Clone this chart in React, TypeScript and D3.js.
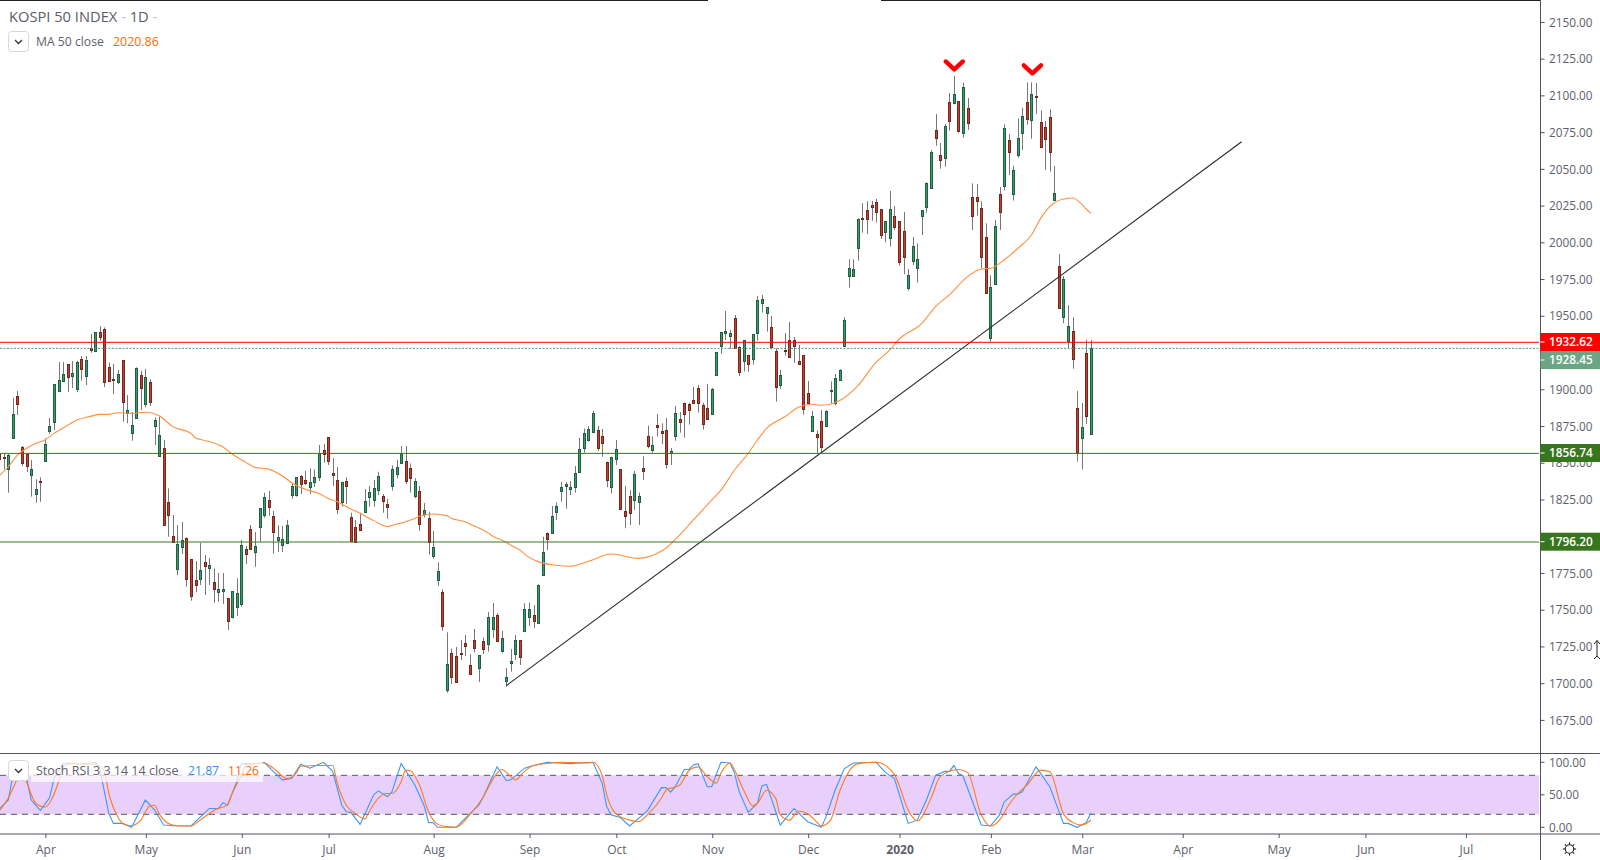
import React from "react";
import * as d3 from "d3";

const closes = [1852.7,1853.3,1855.4,1883.4,1890.7,1850.4,1848.3,1845.8,1832.2,1837,1862.9,1875.2,1903.9,1906.6,1910.7,1909.1,1911.4,1918.9,1914.1,1920.3,
1927.6,1939.4,1936.5,1905.7,1906.4,1906.9,1910.7,1892,1886.1,1875.9,1914.8,1901.6,1908.7,1892,1879.3,1869,1808,1814.9,1796.4,1794.6,
1797.3,1771.1,1759.5,1767,1776.8,1780,1780.3,1764.3,1763.9,1763.9,1742.5,1762.5,1761.1,1793.9,1788.2,1791.2,1793.2,1819.2,1826.7,1820.3,
1803.3,1799.4,1798,1807.6,1834.2,1840.4,1836,1836.7,1837,1840.4,1856.8,1856.1,1851.8,1842.2,1819,1837,1834.7,1797.1,1796,1804.2,
1824,1830.1,1832.9,1841,1824.4,1820.3,1845.8,1847.2,1856.8,1838.1,1840.1,1837.6,1808.7,1817.8,1796,1792.6,1776.2,1739,1712.6,1704.2,
1700.8,1719.9,1725.4,1706.3,1724,1718.8,1723.3,1744.7,1744.7,1728.8,1730.4,1703.8,1714.7,1729,1717.9,1750.2,1750.2,1742.5,1766.6,1789.1,
1798.5,1813.7,1820.5,1833.6,1835.8,1833.6,1843.1,1859.5,1870.5,1873.2,1884.1,1860.7,1864.1,1838.8,1854.1,1859.5,1819,1814.2,1816.3,1842.5,
1827.4,1844.9,1862,1862.3,1875,1870.9,1849.7,1858.2,1884.1,1878.4,1883.4,1886.2,1890.9,1890.9,1877,1880,1900.5,1925.8,1939.5,1940.1,
1938.8,1928.5,1912.6,1934,1917.6,1938,1961.3,1962,1956.5,1929.2,1902.3,1910,1926.9,1922.8,1929.9,1918,1886.8,1890.9,1882.1,1867.7,
1861.3,1885.5,1900,1908,1913.5,1947.6,1983.1,1982.4,2016.6,2017.1,2017.1,2025.3,2021.4,2006.2,2015.3,2023.5,2011.6,1987.7,1991.1,1978.4,
1998.2,1989.3,2022.8,2041.2,2062.4,2072.4,2057.4,2080.2,2083.8,2102,2077.2,2106.8,2082.7,2019.1,2029.4,1991.1,1966.1,1970.2,2011.8,2021.9,
2078.8,2062.9,2050.1,2072,2087,2084.9,2102,2100.4,2065.8,2071.3,2062.4,2034.4,1955.8,1975.6,1943.5,1921,1857.2,1874.5,1882.5,1928.45];
const opens = [1856.3,1854.2,1845.8,1867.5,1895.7,1860.9,1856.3,1842.2,1829.2,1837.9,1851.7,1872.2,1878.4,1899.6,1906.4,1917.6,1909.8,1900.9,1921,1909.8,
1928.5,1926.9,1939.4,1941.5,1915.5,1907.8,1905.7,1920.3,1884.5,1870.9,1880.7,1910,1890.5,1905.3,1875.7,1855.2,1860.2,1823.3,1800,1777.5,
1793,1798.7,1784.3,1770,1771.1,1782.3,1778.7,1768.6,1762.3,1762.9,1757.7,1744.7,1752,1754,1791.2,1804.8,1789.6,1806.7,1814.9,1824.7,
1813.7,1797.8,1794.4,1795.7,1828.5,1828.5,1841.1,1838.3,1833.8,1837.4,1840.8,1858.8,1867.7,1843.1,1838.3,1823.8,1837.6,1813,1806.2,1808.3,
1817,1827.2,1825.1,1832,1827.4,1821.9,1834.7,1842.4,1850.4,1851.3,1846.5,1827.9,1830.8,1815.6,1812.4,1786.9,1770.5,1761.8,1695.1,1720.1,
1718.1,1720.4,1727,1712.4,1729,1710.4,1728.3,1726.8,1737,1746.1,1722,1701.5,1713.8,1719.7,1729,1735.6,1745.2,1746.1,1741.1,1773.9,
1802.1,1802.6,1816.9,1831.3,1834.7,1832.7,1834,1844.3,1860.7,1866.1,1871.6,1872.5,1868.4,1850.6,1833.6,1853.2,1845.9,1817.2,1827.4,1825.1,
1823.8,1846.5,1868.4,1859.3,1875.9,1871.8,1872.5,1856.8,1868.9,1880,1890.9,1890.3,1893,1901.2,1889.6,1887.5,1883.4,1910,1929.9,1938.8,
1937.2,1949,1929.2,1919.6,1923.7,1921.5,1938.8,1959.3,1952.4,1942.9,1926.5,1903.7,1927.4,1934,1934,1919.6,1923.7,1897.8,1872.3,1869.8,
1878.7,1875.2,1899.6,1891,1906.9,1930.3,1978.2,1978.2,1997.3,2017.5,2022.8,2026.2,2028.2,2023.5,2008.2,2004.1,2018.7,2015.3,2008.4,1969.9,
1988.4,1983.6,2019.1,2025.3,2038.3,2077.4,2060.3,2058.8,2096.6,2096.3,2097.2,2075.8,2092.5,2031.7,2031.7,2024.1,2004.3,1935.3,1972.2,2033.7,
2039.2,2070.6,2034.2,2060.8,2075.8,2096.5,2084.3,2100.9,2082.9,2079.5,2086.3,2029.6,1984.5,1950.1,1933.7,1940.1,1887.5,1867.5,1925.1,1870.2];
const highs = [1856.3,1856.3,1856.3,1894.8,1899.3,1861.8,1856.8,1852.2,1839,1840.4,1867,1880.9,1903.9,1919.1,1919.1,1917.6,1919.8,1920,1923.2,1923.2,
1938.3,1939.4,1943.7,1942.8,1918.7,1917.8,1913.7,1920.3,1896.6,1885,1915.5,1913.2,1914.4,1907.3,1881.3,1881.8,1865.9,1832.8,1814.6,1807.8,
1809.9,1799.4,1784.3,1783.2,1795.7,1787.3,1785.3,1778.2,1775,1775,1757.7,1762.5,1771.4,1797.6,1793.5,1807.8,1803,1819.2,1829.9,1831,
1817.4,1807.6,1807.1,1811.2,1836.3,1840.4,1842,1844.9,1846.5,1845.8,1862.5,1863.1,1867.7,1853.4,1847.4,1837.4,1840.4,1816.2,1811.2,1816.2,
1832.4,1834.5,1838.6,1844.2,1829,1825.6,1848.6,1852.2,1861.8,1861.8,1849.9,1839.7,1834.5,1822.8,1816.9,1803.7,1782.3,1763.9,1734.5,1723.3,
1724.5,1729.3,1732.7,1719.5,1736.8,1718.8,1731,1748.4,1754.5,1747.5,1735.4,1710.1,1723.1,1732.7,1729,1754.3,1754.8,1753.2,1767.3,1799.8,
1802.8,1820.8,1823.3,1837.2,1837.2,1837.9,1848.1,1867.3,1873.7,1875.5,1885.7,1875.5,1873.4,1851.1,1854.5,1865.9,1845.9,1834.5,1831.7,1844.7,
1829.9,1854.7,1875.7,1868.2,1883.7,1877.3,1880.9,1860.4,1889.1,1885,1891.4,1891.4,1902.1,1903.5,1891.4,1904.2,1901.4,1926,1939.7,1954,
1941,1951.3,1929.9,1934,1924.2,1938,1964.3,1965,1956.8,1950.6,1928.5,1913.7,1939,1946.5,1936.3,1930.8,1923.7,1906.2,1885.7,1872.3,
1886.4,1886.2,1905.8,1911,1914.2,1949.7,1989.3,1989.3,2017.3,2027.6,2028.9,2029.2,2030.5,2023.7,2015.3,2036,2025.7,2015.3,2021.6,1982.7,
2004.6,2000.2,2022.8,2041.9,2064,2088.6,2068.8,2081.8,2102.9,2114.5,2097.2,2109.8,2099.5,2041.2,2040.8,2029.1,2013.9,1978.4,2016.2,2038.7,
2081.5,2074.9,2053.3,2085.6,2092.9,2110.2,2110.2,2109.8,2091.1,2083.8,2091.8,2053.1,1992.9,1977.9,1957.9,1949.7,1899.3,1891.2,1934.4,1934.3];
const lows = [1852.2,1845.8,1829.9,1866.5,1883,1848.1,1844,1827.2,1823,1823.7,1851.7,1870,1872.7,1898.9,1905.7,1898.7,1901.4,1898.7,1906.4,1903.4,
1925.5,1926.2,1933.7,1902.1,1905.7,1897.3,1904.1,1878.4,1877.3,1865.4,1880.4,1886.4,1888.2,1889.1,1862.4,1855.2,1808,1799.8,1796.4,1773.6,
1788,1765.7,1756.1,1762,1766.8,1760,1766.8,1754.7,1755.4,1753.8,1736.1,1744,1745.6,1752,1781.2,1790.7,1779.3,1796.4,1812.8,1814.2,
1788.2,1789.4,1789.4,1795.7,1825.8,1827.2,1829,1835.1,1829,1833.8,1837.9,1850.4,1848.8,1834.5,1815.3,1820.3,1822.2,1796.4,1796,1803.9,
1816,1820.3,1820.3,1828.3,1816.2,1812.1,1831.3,1839.7,1849.5,1835.8,1829.9,1826,1803.9,1813,1787.5,1784.8,1766.1,1735.6,1693.3,1699.2,
1700.6,1715.6,1718.3,1705.4,1720.8,1700.6,1719.7,1721.3,1730.6,1728.8,1720.6,1697.4,1707.6,1715.6,1712.2,1735.6,1738.8,1737.4,1740.2,1773.2,
1790.7,1801.9,1811.2,1823.8,1819,1828.3,1829.9,1844.3,1857.2,1864.8,1871.1,1858.4,1854.5,1833.6,1829.5,1848.8,1818,1805.6,1807.8,1818,
1807.8,1838.6,1860.2,1857.2,1868.2,1863.2,1846.3,1848.8,1865.4,1870.9,1867.5,1876.4,1890.5,1884.6,1873,1879.6,1883.2,1909.8,1924.7,1934.2,
1928.3,1928.1,1909.6,1912.8,1912.4,1917.4,1933.8,1952.9,1939.9,1927.8,1892.1,1900.7,1923.5,1922.4,1918.7,1918,1883.2,1890.5,1872.3,1856.8,
1856.8,1875,1891,1889.6,1906.9,1930.3,1970,1977.5,1988.4,2007.5,2006.6,2015.7,2014.4,2003.2,2000.9,1998,2009.3,1985,1979.3,1967.9,
1985.4,1973.4,2005.9,2021.2,2037.8,2066.9,2051.2,2052.6,2077.2,2095.2,2075.8,2072.4,2077.7,2009.3,2019.1,1983.2,1966.1,1933,1972.2,2009.3,
2036.4,2046.9,2029.4,2058.8,2064,2081.3,2071.7,2088.6,2065.1,2050.3,2049.2,2029.4,1955.8,1945.6,1928.5,1914.6,1851.1,1845.8,1876.8,1870.2];

const maBars = [0,2,4,6,8,10,12,15,17,20,22,24,26,29,32,35,38,42,43,45,49,51,54,56,59,62,64,67,70,72,74,76,79,82,85,87,89,90,93,95,98,99,102,104,107,108,110,112,114,116,118,122,125,129,134,140,145,152,156,158,161,164,166,168,172,175,178,180,183,184,188,192,195,197,202,205,208,212,215,217,220,223,226,228,231,234,235,237,238,239];
const maValues = [1841.5,1847.6,1855.6,1860.2,1863.6,1865.9,1870.4,1875.9,1879.5,1882,1883.4,1883.4,1884.5,1884.1,1884.8,1882.5,1875,1870.4,1867.2,1865.6,1861.1,1856.3,1850.6,1847.2,1846,1841.3,1836.7,1832.2,1829.4,1826,1823.8,1820.3,1815.8,1810.8,1806.7,1808.5,1810.1,1811.2,1814.6,1815.3,1814.2,1812.4,1810.1,1807.1,1802.6,1800.3,1797.6,1794.2,1790.7,1785.7,1782.8,1780.3,1779.6,1783,1788,1785,1790,1811.3,1825,1831.7,1845.4,1856.8,1865.9,1873.9,1881.8,1888.2,1890.3,1889.6,1891.4,1892.8,1903,1919,1927.4,1934.7,1945.6,1957,1965,1977.5,1982.7,1983.2,1988.8,1996.8,2005.9,2017.3,2028,2031,2031.2,2027,2023.5,2020.86];

const kBars = [0,2,3,4,6,7,9,11,12,14,15,18,21,22,24,25,27,29,32,34,36,38,42,46,48,49,50,52,53,57,58,60,62,64,66,68,71,73,75,76,77,79,82,83,85,86,88,91,93,94,95,96,100,105,106,109,111,112,115,117,120,125,127,130,132,133,134,136,138,141,142,145,146,147,148,150,151,152,153,155,156,158,160,161,162,164,166,167,168,171,174,177,180,181,183,185,187,192,194,196,199,201,203,205,207,208,209,210,211,215,217,219,220,222,223,224,227,230,233,234,236,238,239];
const kValues = [28,42,80,93,75,42,26,45,75,98,99,97,100,91,21,6,6,0,42,27,3.5,2.5,2,29,29,38,34,70,98,98,100,86,73,75,97,91,100,86,34,24,23,4.5,50,56,47,55,98,65,34,7.6,7,0,0,34,47,93,72,73,91,95,100,98,99,100,68,32,19,15,2,20,26.5,61,61,54,62.5,89,89,96,98,62.5,62.5,100,99,83,55,23,37,64,66,3.5,29,8.6,0,16,57,90,99,100,84.5,75,6,11,42,80,86,86,95,83,79,3.5,2,19,39,51,51,55,93,62.5,6,6,0,7.6,21.87];
const dBars = [0,2,4,5,6,8,10,11,13,14,16,21,23,24,26,27,29,31,33,34,35,37,39,42,44,47,50,51,53,54,58,60,63,65,66,70,73,74,76,78,80,81,83,85,86,88,89,90,92,94,96,98,100,103,106,108,110,112,113,115,117,121,123,129,130,132,133,135,138,140,142,145,146,149,151,153,155,157,158,160,161,163,165,166,168,170,171,173,175,177,179,180,182,184,186,188,192,196,197,199,201,204,206,210,212,215,217,219,221,223,225,228,230,233,235,237,238,239];
const dValues = [25,45,75,88,70,37,31,37,70,93,98,97,86,52,16,6,2.5,11,33,34,21,6,2.5,2,11,26,35,52,80,96,99,91,75,83,94,95,95,68,34,21,13,24,45,52,52,70,88,87,65,24,4.5,1,0,19,47,73,89,78,73,86,95,99,100,99,100,80,50,21,11,9,20,45,57,65,87,93,78,68,83,99,88,57,33,37,57,44.5,19,11,25,21,8,2,11,55,85.5,98,100,81,65,26.5,10,44.5,78,89,84.5,19,2,11,34,52,65,88,85.5,21,7.6,3.5,6,11.26];

const priceTicks = [2150,2125,2100,2075,2050,2025,2000,1975,1950,1900,1875,1850,1825,1775,1750,1725,1700,1675];
const stochTicks = [100, 50, 0];
const dateLabels = ["Apr","May","Jun","Jul","Aug","Sep","Oct","Nov","Dec","2020","Feb","Mar","Apr","May","Jun","Jul"];
const dateBars = [10,32,53,72,95,116,135,156,177,197,217,237,259,280,299,321];
const trendBars = [111, 272];
const trendPrices = [1698, 2069.6];
const peakBars = [209.1, 226.2];
const peakPrices = [2119, 2116.4];
const resistance = 1932.62;
const lastPrice = 1928.45;
const supports = [1856.74, 1796.2];

const W = 1600, H = 860, AX = 1540.5, TOP = 753.5, BOT = 834;
const FONT = '"Open Sans", sans-serif';
const TXT = "#5d606b";

export default function App() {
  const x = d3.scaleLinear().domain([0, 238]).range([-0.8, 1086.3]);
  const y = d3.scaleLinear().domain([1932.62, 1796.2]).range([342.3, 542]);
  const yAxis = d3.scaleLinear().domain([2150, 1675]).range([22.4, 720.4]);
  const ys = d3.scaleLinear().domain([0, 100]).range([827.3, 762.3]);
  const maLine = d3.line<number>().x((b) => x(b)).y((_, i) => y(maValues[i])).curve(d3.curveMonotoneX);
  const kLine = d3.line<number>().x((b) => x(b)).y((_, i) => ys(kValues[i]));
  const dLine = d3.line<number>().x((b) => x(b)).y((_, i) => ys(dValues[i])).curve(d3.curveMonotoneX);
  const labels: [number, string, string][] = [
    [342, "#ff0000", "1932.62"],
    [360, "#6ba583", "1928.45"],
    [453, "#38761d", "1856.74"],
    [541.7, "#38761d", "1796.20"],
  ];
  const chevron = (cx: number, cy: number) => `M${cx - 8.6},${cy - 8}L${cx},${cy}L${cx + 8.6},${cy - 8}`;
  return (
    <svg width={W} height={H} viewBox={`0 0 ${W} ${H}`} style={{ position: "fixed", left: 0, top: 0, background: "#fff", fontFamily: FONT }}>
      <defs>
        <clipPath id="main"><rect x={0} y={0} width={AX - 0.5} height={TOP} /></clipPath>
        <clipPath id="sub"><rect x={0} y={TOP} width={AX - 1} height={BOT - TOP} /></clipPath>
      </defs>
      <rect x={0} y={0} width={708} height={1} fill="#222" />
      <rect x={881} y={0} width={660} height={1} fill="#222" />

      <g clipPath="url(#main)">
        {opens.map((o, i) => {
          const c = closes[i];
          const up = c > o;
          const px = Math.round(x(i));
          const top = Math.round(y(Math.max(o, c)));
          const bot = Math.round(y(Math.min(o, c)));
          return (
            <g key={i}>
              <line x1={px + 0.5} x2={px + 0.5} y1={y(highs[i])} y2={y(lows[i])} stroke="#777" strokeWidth={1} />
              <rect x={px - 0.5} y={top + 0.5} width={2} height={Math.max(bot - top, 1)} fill={up ? "#3f9a6a" : "#cf3c2b"} stroke={up ? "#1f5f43" : "#6f2a20"} strokeWidth={1} />
            </g>
          );
        })}
        <path d={maLine(maBars) ?? ""} fill="none" stroke="#ff9040" strokeWidth={1.1} />
        <line x1={x(trendBars[0])} y1={y(trendPrices[0])} x2={x(trendBars[1])} y2={y(trendPrices[1])} stroke="#2a2a2e" strokeWidth={1.1} />
        <line x1={0} x2={AX - 1.5} y1={y(resistance)} y2={y(resistance)} stroke="#ff0000" strokeWidth={1} />
        <line x1={0} x2={AX - 1.5} y1={y(lastPrice)} y2={y(lastPrice)} stroke="#4f9a78" strokeWidth={1} strokeDasharray="2 1.5" />
        {supports.map((s) => (
          <line key={s} x1={0} x2={AX - 1.5} y1={y(s)} y2={y(s)} stroke="#38761d" strokeWidth={1} />
        ))}
        {peakBars.map((b, i) => (
          <path key={b} d={chevron(x(b), y(peakPrices[i]))} fill="none" stroke="#ff0000" strokeWidth={4.4} strokeLinecap="round" strokeLinejoin="round" />
        ))}
      </g>

      <text x={9} y={22} fontSize={14.7} fill="#5a5d66">KOSPI 50 INDEX<tspan fill="#c0c2c8"> - </tspan>1D<tspan fill="#c0c2c8"> -</tspan></text>
      <rect x={8.5} y={31.5} width={20} height={20} rx={3} fill="#fff" stroke="#d6d8de" />
      <path d="M15,40L18.5,43.5L22,40" fill="none" stroke="#333" strokeWidth={1.3} />
      <text x={36} y={46} fontSize={12.2} fill={TXT}>MA 50 close</text>
      <text x={113} y={46} fontSize={12.4} fill="#ff6d00">2020.86</text>

      <g clipPath="url(#sub)">
        <rect x={0} y={ys(80)} width={AX - 1.5} height={ys(20) - ys(80)} fill="#e9d0fc" />
        {[80, 20].map((l) => (
          <line key={l} x1={0} x2={AX - 1.5} y1={ys(l)} y2={ys(l)} stroke="#555" strokeWidth={1} strokeDasharray="6 5" />
        ))}
        <path d={kLine(kBars) ?? ""} fill="none" stroke="#3f97ee" strokeWidth={1.1} />
        <path d={dLine(dBars) ?? ""} fill="none" stroke="#ff7a1f" strokeWidth={1.1} />
        <rect x={31} y={760} width={232} height={22} fill="#fff" opacity={0.72} />
      </g>
      <rect x={8.5} y={760.5} width={20} height={20} rx={3} fill="#fff" stroke="#d6d8de" />
      <path d="M15,769L18.5,772.5L22,769" fill="none" stroke="#333" strokeWidth={1.3} />
      <text x={36} y={775} fontSize={12.5} fill={TXT}>Stoch RSI 3 3 14 14 close</text>
      <text x={188} y={775} fontSize={12.2} fill="#2f8ff0">21.87</text>
      <text x={228} y={775} fontSize={12.2} fill="#ff6d00">11.26</text>

      <line x1={0} x2={W} y1={TOP} y2={TOP} stroke="#50535e" strokeWidth={1} />
      <line x1={0} x2={W} y1={BOT} y2={BOT} stroke="#50535e" strokeWidth={1} />
      <line x1={AX} x2={AX} y1={0} y2={H} stroke="#50535e" strokeWidth={1} />

      {priceTicks.map((p) => (
        <g key={p}>
          <line x1={AX} x2={AX + 4} y1={yAxis(p)} y2={yAxis(p)} stroke="#50535e" />
          <text x={1549} y={yAxis(p) + 4.2} fontSize={11.8} fill={TXT}>{p.toFixed(2)}</text>
        </g>
      ))}
      {stochTicks.map((s) => (
        <g key={s}>
          <line x1={AX} x2={AX + 4} y1={ys(s)} y2={ys(s)} stroke="#50535e" />
          <text x={1549} y={ys(s) + 4.2} fontSize={11.8} fill={TXT}>{s.toFixed(2)}</text>
        </g>
      ))}
      {labels.map(([cy, fill, t]) => (
        <g key={t}>
          <rect x={AX} y={cy - 9} width={W - AX} height={18} fill={fill} />
          <line x1={AX} x2={AX + 4} y1={cy} y2={cy} stroke="#fff" />
          <text x={1549} y={cy + 4.2} fontSize={11.8} fontWeight={600} fill="#fff">{t}</text>
        </g>
      ))}

      {dateLabels.map((t, i) => (
        <g key={t + i}>
          <line x1={x(dateBars[i]) + 1} x2={x(dateBars[i]) + 1} y1={BOT} y2={BOT + 4} stroke="#50535e" />
          <text x={x(dateBars[i]) + 1} y={854} fontSize={12} textAnchor="middle" fontWeight={t === "2020" ? 700 : 400} fill={TXT}>{t}</text>
        </g>
      ))}

      <g transform="translate(1569.5,849)" fill="none" stroke="#222" strokeWidth={1.1}>
        <circle r={4.2} />
        {d3.range(8).map((k) => (
          <line key={k} y1={-4.4} y2={-6.6} transform={`rotate(${k * 45})`} />
        ))}
      </g>
      <path d="M1594,644L1597,640.5V656L1594,659" fill="none" stroke="#222" strokeWidth={1} />
      <path d="M1600,644L1597,640.5M1597,656L1600,659" fill="none" stroke="#222" strokeWidth={1} />
    </svg>
  );
}
